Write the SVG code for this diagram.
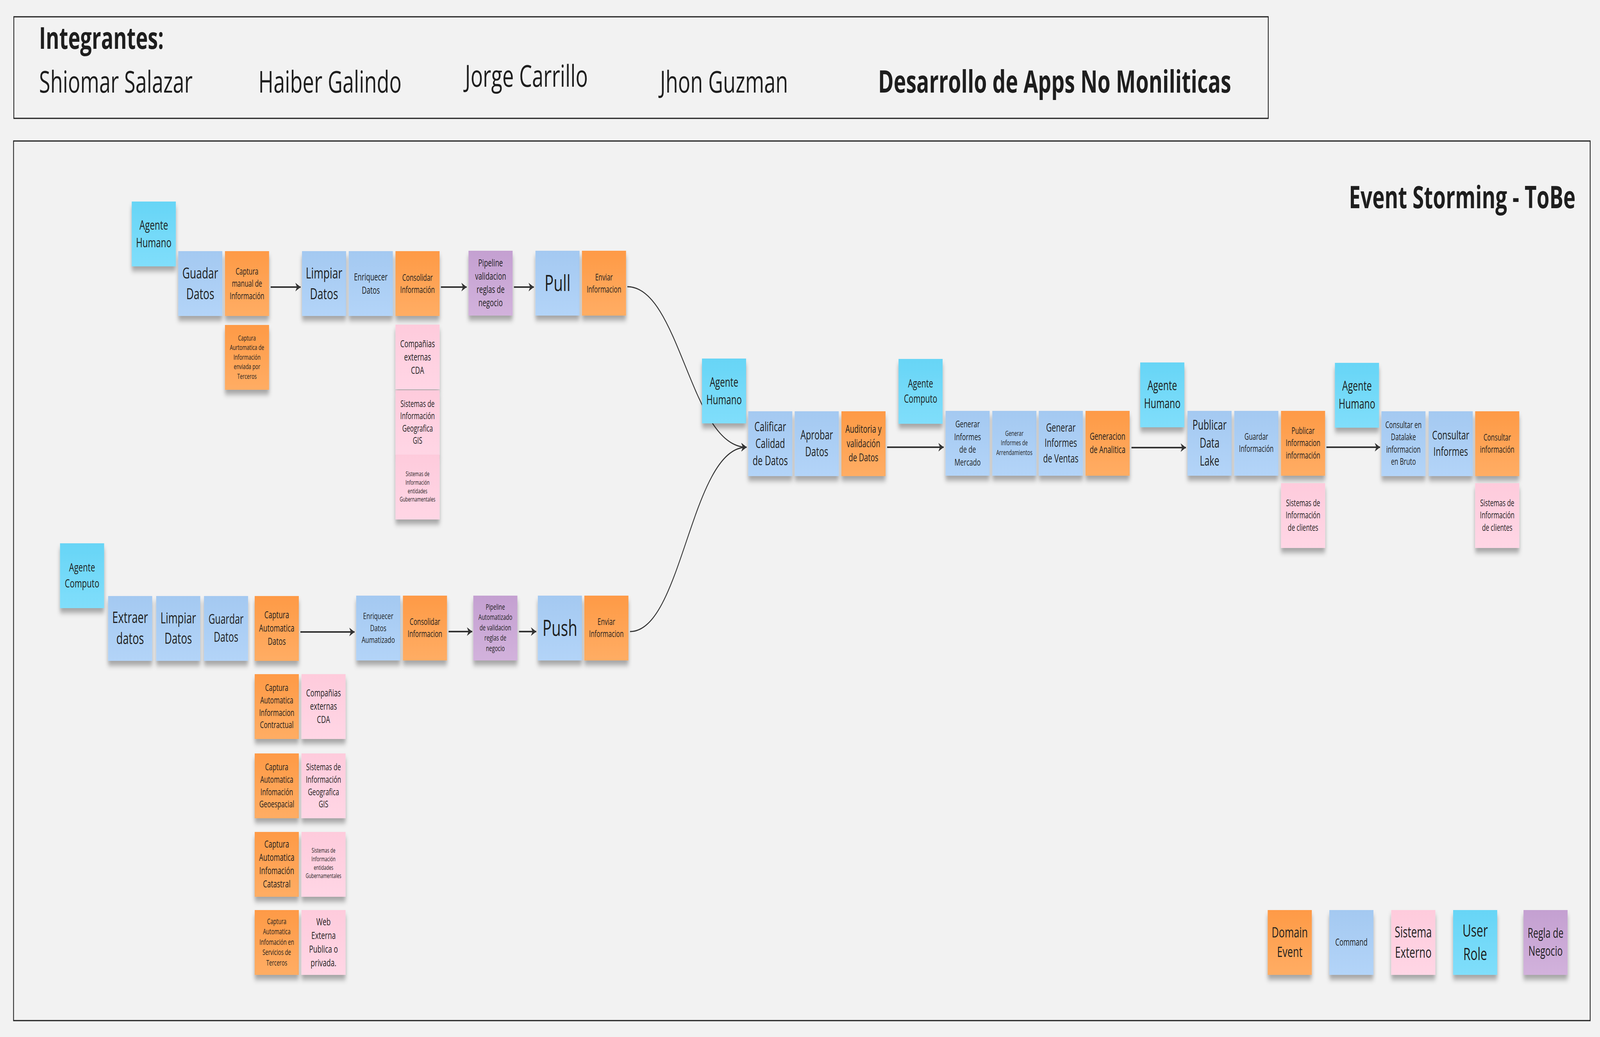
<svg xmlns="http://www.w3.org/2000/svg" width="6024" height="2655" viewBox="0 0 6024 2655" preserveAspectRatio="none">
<defs>
<style>
svg{width:100vw;height:100vh}
.t{font-family:"Open Sans","Noto Sans","Liberation Sans",sans-serif;fill:#1e1e1e;text-anchor:middle}
.h{font-family:"Open Sans","Noto Sans","Liberation Sans",sans-serif;fill:#1e1e1e}
.st{filter:url(#sh)}
.o{fill:url(#gO)}
.b{fill:url(#gB)}
.c{fill:url(#gC)}
.p{fill:url(#gP)}
.v{fill:url(#gV)}
.frame{fill:none;stroke:#1e1e1e;stroke-width:3}
.ln{fill:none;stroke:#333;stroke-width:4;marker-end:url(#ah)}
.cv{fill:none;stroke:#333;stroke-width:3;marker-end:url(#ah)}
</style>
<linearGradient id="gO" x1="0" y1="0" x2="0" y2="1"><stop offset="0" stop-color="#fe9a46"/><stop offset="1" stop-color="#ffad64"/></linearGradient>
<linearGradient id="gB" x1="0" y1="0" x2="0" y2="1"><stop offset="0" stop-color="#a4c9f1"/><stop offset="1" stop-color="#b3d4f8"/></linearGradient>
<linearGradient id="gC" x1="0" y1="0" x2="0" y2="1"><stop offset="0" stop-color="#67d5f6"/><stop offset="1" stop-color="#80defb"/></linearGradient>
<linearGradient id="gP" x1="0" y1="0" x2="0" y2="1"><stop offset="0" stop-color="#fecbdc"/><stop offset="1" stop-color="#ffd6e5"/></linearGradient>
<linearGradient id="gV" x1="0" y1="0" x2="0" y2="1"><stop offset="0" stop-color="#c4a0d1"/><stop offset="1" stop-color="#d2b2dc"/></linearGradient>
<filter id="sh" x="-10%" y="-10%" width="120%" height="135%"><feDropShadow dx="0" dy="12" stdDeviation="7" flood-color="#000" flood-opacity="0.32"/></filter>
<marker id="ah" viewBox="0 0 24 24" refX="22" refY="12" markerWidth="24" markerHeight="24" markerUnits="userSpaceOnUse" orient="auto"><path d="M2,1 L22,12 L2,23 L8,12 Z" fill="#333"/></marker>
</defs>
<rect x="0" y="0" width="6024" height="2655" fill="#f2f2f2"/>

<g id="header">
<rect class="frame" x="52" y="43" width="4723" height="260"/>
<text class="h" x="147" y="125" font-size="77" font-weight="bold">Integrantes:</text>
<text class="h" x="147" y="237" font-size="77">Shiomar Salazar</text>
<text class="h" x="973" y="237" font-size="77">Haiber Galindo</text>
<text class="h" x="1751" y="222" font-size="77">Jorge Carrillo</text>
<text class="h" x="2485" y="237" font-size="77">Jhon Guzman</text>
<text class="h" x="3306" y="237" font-size="79" font-weight="bold">Desarrollo de Apps No Moniliticas</text>
</g>

<g id="frame">
<rect class="frame" x="51" y="361" width="5936" height="2252"/>
<text class="h" x="5932" y="533" font-size="78" font-weight="bold" text-anchor="end">Event Storming - ToBe</text>
</g>

<g id="connectors">
<path class="ln" d="M1019,735 L1132,735"/>
<path class="ln" d="M1660,735 L1757,735"/>
<path class="ln" d="M1935,735 L2010,735"/>
<path class="cv" d="M2362,734 C2560,734 2600,1145 2811,1145"/>
<path class="ln" d="M1131,1618 L1335,1618"/>
<path class="ln" d="M1689,1617 L1778,1617"/>
<path class="ln" d="M1954,1617 L2019,1617"/>
<path class="cv" d="M2372,1617 C2570,1617 2600,1145 2811,1145"/>
<path class="ln" d="M3340,1145 L3553,1145"/>
<path class="ln" d="M4260,1146 L4465,1146"/>
<path class="ln" d="M4994,1145 L5196,1145"/>
</g>

<g id="n-agente-humano-1"><rect class="st c" x="496" y="516" width="166" height="166"/><text class="t" x="579" y="588" font-size="33"><tspan x="579">Agente</tspan><tspan x="579" dy="45">Humano</tspan></text></g>
<g id="n-guadar-datos"><rect class="st b" x="671" y="643" width="166" height="166"/><text class="t" x="754" y="713" font-size="39"><tspan x="754">Guadar</tspan><tspan x="754" dy="53">Datos</tspan></text></g>
<g id="n-captura-manual"><rect class="st o" x="847" y="643" width="166" height="166"/><text class="t" x="930" y="703" font-size="23"><tspan x="930">Captura</tspan><tspan x="930" dy="31.3">manual de</tspan><tspan x="930" dy="31.3">Información</tspan></text></g>
<g id="n-captura-aurtomatica"><rect class="st o" x="847" y="832" width="166" height="166"/><text class="t" x="930" y="872" font-size="18"><tspan x="930">Captura</tspan><tspan x="930" dy="24.5">Aurtomatica de</tspan><tspan x="930" dy="24.5">Información</tspan><tspan x="930" dy="24.5">enviada por</tspan><tspan x="930" dy="24.5">Terceros</tspan></text></g>
<g id="n-limpiar-datos-1"><rect class="st b" x="1137" y="643" width="166" height="166"/><text class="t" x="1220" y="713" font-size="39"><tspan x="1220">Limpiar</tspan><tspan x="1220" dy="53">Datos</tspan></text></g>
<g id="n-enriquecer-datos-1"><rect class="st b" x="1313" y="643" width="166" height="166"/><text class="t" x="1396" y="718" font-size="25"><tspan x="1396">Enriquecer</tspan><tspan x="1396" dy="34">Datos</tspan></text></g>
<g id="n-consolidar-1"><rect class="st o" x="1489" y="643" width="166" height="166"/><text class="t" x="1572" y="719" font-size="23"><tspan x="1572">Consolidar</tspan><tspan x="1572" dy="31.3">Información</tspan></text></g>
<g id="n-cda-1"><rect class="st p" x="1489" y="831" width="166" height="166"/><text class="t" x="1572" y="889" font-size="25"><tspan x="1572">Compañias</tspan><tspan x="1572" dy="34">externas</tspan><tspan x="1572" dy="34">CDA</tspan></text></g>
<g id="n-gis-1"><rect class="st p" x="1489" y="999" width="166" height="166"/><text class="t" x="1572" y="1042" font-size="23"><tspan x="1572">Sistemas de</tspan><tspan x="1572" dy="31.3">Información</tspan><tspan x="1572" dy="31.3">Geografica</tspan><tspan x="1572" dy="31.3">GIS</tspan></text></g>
<g id="n-gub-1"><rect class="st p" x="1489" y="1164" width="166" height="166"/><text class="t" x="1572" y="1219" font-size="16"><tspan x="1572">Sistemas de</tspan><tspan x="1572" dy="21.8">Información</tspan><tspan x="1572" dy="21.8">entidades</tspan><tspan x="1572" dy="21.8">Gubernamentales</tspan></text></g>
<g id="n-pipeline-1"><rect class="st v" x="1764" y="642" width="166" height="166"/><text class="t" x="1847" y="682" font-size="25"><tspan x="1847">Pipeline</tspan><tspan x="1847" dy="34">validacion</tspan><tspan x="1847" dy="34">reglas de</tspan><tspan x="1847" dy="34">negocio</tspan></text></g>
<g id="n-pull"><rect class="st b" x="2016" y="642" width="166" height="166"/><text class="t" x="2099" y="745" font-size="57">Pull</text></g>
<g id="n-enviar-1"><rect class="st o" x="2191" y="642" width="166" height="166"/><text class="t" x="2274" y="718" font-size="23"><tspan x="2274">Enviar</tspan><tspan x="2274" dy="31.3">Informacion</tspan></text></g>

<g id="n-agente-humano-2"><rect class="st c" x="2643" y="918" width="166" height="166"/><text class="t" x="2726" y="990" font-size="33"><tspan x="2726">Agente</tspan><tspan x="2726" dy="45">Humano</tspan></text></g>
<g id="n-calificar"><rect class="st b" x="2817" y="1053" width="166" height="166"/><text class="t" x="2900" y="1104" font-size="32"><tspan x="2900">Calificar</tspan><tspan x="2900" dy="43.5">Calidad</tspan><tspan x="2900" dy="43.5">de Datos</tspan></text></g>
<g id="n-aprobar"><rect class="st b" x="2992" y="1053" width="166" height="166"/><text class="t" x="3075" y="1125" font-size="32"><tspan x="3075">Aprobar</tspan><tspan x="3075" dy="43.5">Datos</tspan></text></g>
<g id="n-auditoria"><rect class="st o" x="3168" y="1053" width="166" height="166"/><text class="t" x="3251" y="1108" font-size="27"><tspan x="3251">Auditoria y</tspan><tspan x="3251" dy="36.7">validación</tspan><tspan x="3251" dy="36.7">de Datos</tspan></text></g>
<g id="n-agente-computo-2"><rect class="st c" x="3383" y="919" width="166" height="166"/><text class="t" x="3466" y="992" font-size="29"><tspan x="3466">Agente</tspan><tspan x="3466" dy="39.4">Computo</tspan></text></g>
<g id="n-informes-mercado"><rect class="st b" x="3560" y="1052" width="166" height="166"/><text class="t" x="3643" y="1094" font-size="24"><tspan x="3643">Generar</tspan><tspan x="3643" dy="32.6">Informes</tspan><tspan x="3643" dy="32.6">de de</tspan><tspan x="3643" dy="32.6">Mercado</tspan></text></g>
<g id="n-informes-arrendamientos"><rect class="st b" x="3736" y="1052" width="166" height="166"/><text class="t" x="3819" y="1116" font-size="18"><tspan x="3819">Generar</tspan><tspan x="3819" dy="24.5">Informes de</tspan><tspan x="3819" dy="24.5">Arrendamientos</tspan></text></g>
<g id="n-informes-ventas"><rect class="st b" x="3911" y="1052" width="166" height="166"/><text class="t" x="3994" y="1105" font-size="29"><tspan x="3994">Generar</tspan><tspan x="3994" dy="39.4">Informes</tspan><tspan x="3994" dy="39.4">de Ventas</tspan></text></g>
<g id="n-analitica"><rect class="st o" x="4087" y="1052" width="166" height="166"/><text class="t" x="4170" y="1126" font-size="25"><tspan x="4170">Generacion</tspan><tspan x="4170" dy="34">de Analitica</tspan></text></g>
<g id="n-agente-humano-3"><rect class="st c" x="4293" y="928" width="166" height="166"/><text class="t" x="4376" y="999" font-size="34"><tspan x="4376">Agente</tspan><tspan x="4376" dy="46.2">Humano</tspan></text></g>
<g id="n-publicar-datalake"><rect class="st b" x="4471" y="1052" width="166" height="166"/><text class="t" x="4554" y="1100" font-size="34"><tspan x="4554">Publicar</tspan><tspan x="4554" dy="46.2">Data</tspan><tspan x="4554" dy="46.2">Lake</tspan></text></g>
<g id="n-guardar-info"><rect class="st b" x="4647" y="1052" width="166" height="166"/><text class="t" x="4730" y="1126" font-size="23"><tspan x="4730">Guardar</tspan><tspan x="4730" dy="31.3">Información</tspan></text></g>
<g id="n-publicar-info"><rect class="st o" x="4823" y="1052" width="166" height="166"/><text class="t" x="4906" y="1111" font-size="23"><tspan x="4906">Publicar</tspan><tspan x="4906" dy="31.3">Informacion</tspan><tspan x="4906" dy="31.3">información</tspan></text></g>
<g id="n-clientes-1"><rect class="st p" x="4823" y="1237" width="166" height="166"/><text class="t" x="4906" y="1296" font-size="23"><tspan x="4906">Sistemas de</tspan><tspan x="4906" dy="31.3">Información</tspan><tspan x="4906" dy="31.3">de clientes</tspan></text></g>
<g id="n-agente-humano-4"><rect class="st c" x="5026" y="929" width="166" height="166"/><text class="t" x="5109" y="1000" font-size="34"><tspan x="5109">Agente</tspan><tspan x="5109" dy="46.2">Humano</tspan></text></g>
<g id="n-consultar-datalake"><rect class="st b" x="5201" y="1053" width="166" height="166"/><text class="t" x="5284" y="1096" font-size="23"><tspan x="5284">Consultar en</tspan><tspan x="5284" dy="31.3">Datalake</tspan><tspan x="5284" dy="31.3">informacion</tspan><tspan x="5284" dy="31.3">en Bruto</tspan></text></g>
<g id="n-consultar-informes"><rect class="st b" x="5379" y="1053" width="166" height="166"/><text class="t" x="5462" y="1125" font-size="31"><tspan x="5462">Consultar</tspan><tspan x="5462" dy="42.2">Informes</tspan></text></g>
<g id="n-consultar-info"><rect class="st o" x="5554" y="1053" width="166" height="166"/><text class="t" x="5637" y="1128" font-size="23"><tspan x="5637">Consultar</tspan><tspan x="5637" dy="31.3">información</tspan></text></g>
<g id="n-clientes-2"><rect class="st p" x="5554" y="1237" width="166" height="166"/><text class="t" x="5637" y="1296" font-size="23"><tspan x="5637">Sistemas de</tspan><tspan x="5637" dy="31.3">Información</tspan><tspan x="5637" dy="31.3">de clientes</tspan></text></g>

<g id="n-agente-computo-1"><rect class="st c" x="226" y="1391" width="166" height="166"/><text class="t" x="309" y="1463" font-size="30"><tspan x="309">Agente</tspan><tspan x="309" dy="40.8">Computo</tspan></text></g>
<g id="n-extraer"><rect class="st b" x="407" y="1526" width="166" height="166"/><text class="t" x="490" y="1595" font-size="40"><tspan x="490">Extraer</tspan><tspan x="490" dy="54.4">datos</tspan></text></g>
<g id="n-limpiar-datos-2"><rect class="st b" x="588" y="1526" width="166" height="166"/><text class="t" x="671" y="1596" font-size="38"><tspan x="671">Limpiar</tspan><tspan x="671" dy="51.7">Datos</tspan></text></g>
<g id="n-guardar-datos-2"><rect class="st b" x="768" y="1526" width="166" height="166"/><text class="t" x="851" y="1597" font-size="34"><tspan x="851">Guardar</tspan><tspan x="851" dy="46.2">Datos</tspan></text></g>
<g id="n-captura-auto-datos"><rect class="st o" x="959" y="1526" width="166" height="166"/><text class="t" x="1042" y="1583" font-size="25"><tspan x="1042">Captura</tspan><tspan x="1042" dy="34">Automatica</tspan><tspan x="1042" dy="34">Datos</tspan></text></g>
<g id="n-enriquecer-2"><rect class="st b" x="1341" y="1525" width="166" height="166"/><text class="t" x="1424" y="1585" font-size="22.5"><tspan x="1424">Enriquecer</tspan><tspan x="1424" dy="30.6">Datos</tspan><tspan x="1424" dy="30.6">Aumatizado</tspan></text></g>
<g id="n-consolidar-2"><rect class="st o" x="1517" y="1525" width="166" height="166"/><text class="t" x="1600" y="1600" font-size="23"><tspan x="1600">Consolidar</tspan><tspan x="1600" dy="31.3">Informacion</tspan></text></g>
<g id="n-pipeline-2"><rect class="st v" x="1782" y="1525" width="166" height="166"/><text class="t" x="1865" y="1561" font-size="19.5"><tspan x="1865">Pipeline</tspan><tspan x="1865" dy="26.5">Automatizado</tspan><tspan x="1865" dy="26.5">de validacion</tspan><tspan x="1865" dy="26.5">reglas de</tspan><tspan x="1865" dy="26.5">negocio</tspan></text></g>
<g id="n-push"><rect class="st b" x="2025" y="1525" width="166" height="166"/><text class="t" x="2108" y="1628" font-size="57">Push</text></g>
<g id="n-enviar-2"><rect class="st o" x="2200" y="1525" width="166" height="166"/><text class="t" x="2283" y="1600" font-size="23"><tspan x="2283">Enviar</tspan><tspan x="2283" dy="31.3">Informacion</tspan></text></g>
<g id="n-contractual"><rect class="st o" x="959" y="1726" width="166" height="166"/><text class="t" x="1042" y="1769" font-size="23.4"><tspan x="1042">Captura</tspan><tspan x="1042" dy="31.8">Automatica</tspan><tspan x="1042" dy="31.8">Informacion</tspan><tspan x="1042" dy="31.8">Contractual</tspan></text></g>
<g id="n-cda-2"><rect class="st p" x="1135" y="1726" width="166" height="166"/><text class="t" x="1218" y="1783" font-size="25"><tspan x="1218">Compañias</tspan><tspan x="1218" dy="34">externas</tspan><tspan x="1218" dy="34">CDA</tspan></text></g>
<g id="n-geoespacial"><rect class="st o" x="959" y="1929" width="166" height="166"/><text class="t" x="1042" y="1972" font-size="23.4"><tspan x="1042">Captura</tspan><tspan x="1042" dy="31.8">Automatica</tspan><tspan x="1042" dy="31.8">Infomación</tspan><tspan x="1042" dy="31.8">Geoespacial</tspan></text></g>
<g id="n-gis-2"><rect class="st p" x="1135" y="1929" width="166" height="166"/><text class="t" x="1218" y="1972" font-size="23.4"><tspan x="1218">Sistemas de</tspan><tspan x="1218" dy="31.8">Información</tspan><tspan x="1218" dy="31.8">Geografica</tspan><tspan x="1218" dy="31.8">GIS</tspan></text></g>
<g id="n-catastral"><rect class="st o" x="959" y="2130" width="166" height="166"/><text class="t" x="1042" y="2170" font-size="25"><tspan x="1042">Captura</tspan><tspan x="1042" dy="34">Automatica</tspan><tspan x="1042" dy="34">Infomación</tspan><tspan x="1042" dy="34">Catastral</tspan></text></g>
<g id="n-gub-2"><rect class="st p" x="1135" y="2130" width="166" height="166"/><text class="t" x="1218" y="2183" font-size="16"><tspan x="1218">Sistemas de</tspan><tspan x="1218" dy="21.8">Información</tspan><tspan x="1218" dy="21.8">entidades</tspan><tspan x="1218" dy="21.8">Gubernamentales</tspan></text></g>
<g id="n-terceros"><rect class="st o" x="959" y="2330" width="166" height="166"/><text class="t" x="1042" y="2366" font-size="19.5"><tspan x="1042">Captura</tspan><tspan x="1042" dy="26.5">Automatica</tspan><tspan x="1042" dy="26.5">Infomación en</tspan><tspan x="1042" dy="26.5">Servicios de</tspan><tspan x="1042" dy="26.5">Terceros</tspan></text></g>
<g id="n-web"><rect class="st p" x="1135" y="2330" width="166" height="166"/><text class="t" x="1218" y="2369" font-size="25.7"><tspan x="1218">Web</tspan><tspan x="1218" dy="35">Externa</tspan><tspan x="1218" dy="35">Publica o</tspan><tspan x="1218" dy="35">privada.</tspan></text></g>

<g id="legend">
<g id="l-domain-event"><rect class="st o" x="4773" y="2330" width="166" height="166"/><text class="t" x="4856" y="2400" font-size="37"><tspan x="4856">Domain</tspan><tspan x="4856" dy="50.3">Event</tspan></text></g>
<g id="l-command"><rect class="st b" x="5005" y="2330" width="166" height="166"/><text class="t" x="5088" y="2421" font-size="25">Command</text></g>
<g id="l-sistema-externo"><rect class="st p" x="5238" y="2330" width="166" height="166"/><text class="t" x="5321" y="2400" font-size="38"><tspan x="5321">Sistema</tspan><tspan x="5321" dy="51.7">Externo</tspan></text></g>
<g id="l-user-role"><rect class="st c" x="5471" y="2330" width="166" height="166"/><text class="t" x="5554" y="2398" font-size="44"><tspan x="5554">User</tspan><tspan x="5554" dy="59.8">Role</tspan></text></g>
<g id="l-regla-negocio"><rect class="st v" x="5736" y="2330" width="166" height="166"/><text class="t" x="5819" y="2401" font-size="34"><tspan x="5819">Regla de</tspan><tspan x="5819" dy="46.2">Negocio</tspan></text></g>
</g>
</svg>
